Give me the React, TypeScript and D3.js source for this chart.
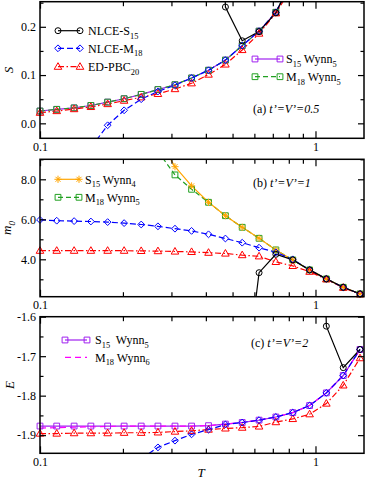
import React, { useRef, useEffect } from 'react';
import * as d3 from 'd3';

const n = null;

// temperatures of the markers (same grid in all three panels)
const T = [0.100, 0.115, 0.133, 0.153, 0.176, 0.202, 0.233, 0.268, 0.309, 0.355,
  0.409, 0.471, 0.542, 0.624, 0.718, 0.827, 0.952, 1.095, 1.261, 1.451];

// (a) entropy S, t'=V'=0.5
const S_NLCE_S15 = [n, n, n, n, n, n, n, n, n, n, 1.5, 0.241, 0.171, 0.190, 0.229, 0.300, n, n, n, n];
const S_NLCE_M18 = [n, n, n, -0.05, -0.004, 0.027, 0.050, 0.066, 0.079, 0.094, 0.110, 0.131, 0.161, 0.191, 0.230, 0.300, n, n, n, n];
const S_ED_PBC20 = [0.022, 0.0255, 0.0295, 0.034, 0.040, 0.047, 0.054, 0.061, 0.071, 0.083, 0.101, 0.122, 0.152, 0.186, 0.228, 0.285, n, n, n, n];
const S_S15_W5 = [0.0255, 0.029, 0.032, 0.037, 0.044, 0.051, 0.060, 0.070, 0.080, 0.094, 0.110, 0.131, 0.161, 0.191, 0.230, 0.300, n, n, n, n];
const S_M18_W5 = [0.0255, 0.029, 0.032, 0.037, 0.044, 0.051, 0.060, 0.070, 0.080, 0.094, 0.110, 0.131, 0.161, 0.191, 0.230, 0.300, n, n, n, n];

// (b) m_0, t'=V'=1
const M_NLCE_S15 = [n, n, n, n, n, n, n, n, n, n, n, n, -3.5, 3.33, 4.25, 3.97, 3.47, 3.02, 2.60, 2.27];
const M_NLCE_M18 = [5.97, 5.93, 5.91, 5.89, 5.86, 5.81, 5.74, 5.65, 5.53, 5.42, 5.25, 5.04, 4.83, 4.58, 4.35, 4.00, 3.47, 3.02, 2.60, 2.27];
const M_ED_PBC20 = [4.43, 4.43, 4.43, 4.43, 4.43, 4.43, 4.42, 4.41, 4.39, 4.37, 4.33, 4.29, 4.21, 4.15, 3.87, 3.67, 3.38, 3.00, 2.58, 2.25];
const M_S15_W4 = [n, n, n, n, n, n, n, 10.1, 8.63, 7.67, 6.85, 6.18, 5.60, 5.05, 4.47, 3.97, 3.47, 3.02, 2.60, 2.27];
const M_M18_W5 = [n, n, n, n, n, n, n, 9.4, 8.22, 7.50, 6.85, 6.18, 5.60, 5.05, 4.47, 3.97, 3.47, 3.02, 2.60, 2.27];

// (c) energy E, t'=V'=2
const E_NLCE_S15 = [n, n, n, n, n, n, n, n, n, n, n, n, n, n, n, n, 0.0, -1.624, -1.729, -1.683];
const E_NLCE_M18 = [n, n, n, n, n, n, -1.96, -1.931, -1.914, -1.898, -1.886, -1.873, -1.868, -1.862, -1.854, -1.843, -1.825, -1.793, -1.749, -1.683];
const E_ED_PBC20 = [-1.896, -1.896, -1.895, -1.895, -1.895, -1.894, -1.894, -1.893, -1.891, -1.889, -1.886, -1.883, -1.881, -1.878, -1.867, -1.859, -1.847, -1.820, -1.774, -1.705];
const E_S15_W5 = [-1.877, -1.877, -1.877, -1.877, -1.877, -1.877, -1.877, -1.877, -1.877, -1.877, -1.876, -1.872, -1.868, -1.862, -1.854, -1.843, -1.825, -1.793, -1.749, -1.683];
const E_M18_W6 = [-1.882, -1.881, -1.880, -1.879, -1.878, -1.877, -1.877, -1.877, -1.877, -1.877, -1.876, -1.872, -1.868, -1.862, -1.854, -1.843, -1.825, -1.793, -1.749, -1.683];

// ticks
const xMajor = [0.1, 1];
const xMinor = [0.2, 0.3, 0.4, 0.5, 0.6, 0.7, 0.8, 0.9];
const sMajor = [0, 0.1, 0.2];
const sMinor = [0.05, 0.15, 0.25];
const mMajor = [4, 6, 8];
const mMinor = [3, 5, 7, 9];
const eMajor = [-1.9, -1.8, -1.7, -1.6];
const eMinor = [-1.85, -1.75, -1.65];

const FONT = '"Liberation Serif", "Times New Roman", serif';
const BLUE = '#0000ff', RED = '#ff0000', PURPLE = '#a020f0', GREEN = '#22a022', ORANGE = '#ffa500', MAGENTA = '#ff00ff';

const marker = (kind) => {
  switch (kind) {
    case 'circle': return 'M3,0A3,3 0 1,1 -3,0A3,3 0 1,1 3,0Z';
    case 'diamond': return 'M0,-3.4L3.4,0L0,3.4L-3.4,0Z';
    case 'triangle': return 'M0,-4L3.8,2.6L-3.8,2.6Z';
    case 'square': return 'M-2.9,-2.9H2.9V2.9H-2.9Z';
    case 'star': return 'M0,-3.6V3.6M-3.6,0H3.6M-2.5,-2.5L2.5,2.5M-2.5,2.5L2.5,-2.5';
    default: return null;
  }
};

const S15 = { color: '#000', dash: null, mk: 'circle' };
const M18 = { color: BLUE, dash: '6,3', mk: 'diamond' };
const ED = { color: RED, dash: '6,2.5,1.5,2.5', mk: 'triangle' };

const App = () => {
  const svgRef = useRef(null);

  useEffect(() => {
    const svg = d3.select(svgRef.current);
    svg.selectAll('*').remove();

    const left = 40, right = 364;
    const x = d3.scaleLog().domain([0.1, 1.5]).range([left, right]);

    const panels = [
      {
        top: 1.7, bottom: 138.3, domain: [-0.031, 0.252], major: sMajor, minor: sMinor,
        title: [{ t: 'S' }], titleX: 13, titleY: 70,
        series: [
          { ...S15, values: S_NLCE_S15, order: 5 },
          { ...M18, values: S_NLCE_M18, order: 4 },
          { ...ED, values: S_ED_PBC20, order: 3 },
          { color: PURPLE, dash: null, mk: 'square', values: S_S15_W5, order: 1 },
          { color: GREEN, dash: '5,3', mk: 'square', values: S_M18_W5, order: 2 },
        ],
        legends: [
          { x1: 58, x2: 80, tx: 88, y: 30.7, s: 0, parts: [{ t: 'NLCE-S' }, { t: '15', sub: true }] },
          { x1: 58, x2: 80, tx: 88, y: 48.3, s: 1, parts: [{ t: 'NLCE-M' }, { t: '18', sub: true }] },
          { x1: 58, x2: 80, tx: 88, y: 66.7, s: 2, parts: [{ t: 'ED-PBC' }, { t: '20', sub: true }] },
          { x1: 255, x2: 280, tx: 286, y: 59, s: 3, parts: [{ t: 'S' }, { t: '15', sub: true }, { t: ' Wynn' }, { t: '5', sub: true }] },
          { x1: 255, x2: 280, tx: 286, y: 76.7, s: 4, parts: [{ t: 'M' }, { t: '18', sub: true }, { t: ' Wynn' }, { t: '5', sub: true }] },
        ],
        label: { x: 253, y: 113, parts: [{ t: '(a) ' }, { t: 't’=V’=0.5', it: true }] },
      },
      {
        top: 159.3, bottom: 296.7, domain: [2.13, 9.0], major: mMajor, minor: mMinor,
        title: [{ t: 'm' }, { t: '0', sub: true }], titleX: 11, titleY: 228,
        series: [
          { ...S15, values: M_NLCE_S15, order: 5 },
          { ...M18, values: M_NLCE_M18, order: 4 },
          { ...ED, values: M_ED_PBC20, order: 3 },
          { color: ORANGE, dash: null, mk: 'star', values: M_S15_W4, order: 2 },
          { color: GREEN, dash: '5,3', mk: 'square', values: M_M18_W5, order: 1 },
        ],
        legends: [
          { x1: 58, x2: 79, tx: 85, y: 179.3, s: 3, parts: [{ t: 'S' }, { t: '15', sub: true }, { t: ' Wynn' }, { t: '4', sub: true }] },
          { x1: 58, x2: 79, tx: 85, y: 197.3, s: 4, parts: [{ t: 'M' }, { t: '18', sub: true }, { t: ' Wynn' }, { t: '5', sub: true }] },
        ],
        label: { x: 253, y: 187, parts: [{ t: '(b) ' }, { t: 't’=V’=1', it: true }] },
      },
      {
        top: 316.7, bottom: 453.3, domain: [-1.946, -1.6], major: eMajor, minor: eMinor,
        title: [{ t: 'E' }], titleX: 14, titleY: 385,
        series: [
          { ...S15, values: E_NLCE_S15, order: 5 },
          { ...M18, values: E_NLCE_M18, order: 4 },
          { ...ED, values: E_ED_PBC20, order: 3 },
          { color: PURPLE, dash: null, mk: 'square', values: E_S15_W5, order: 1 },
          { color: MAGENTA, dash: '6,4', mk: null, values: E_M18_W6, order: 2 },
        ],
        legends: [
          { x1: 65, x2: 87, tx: 95, y: 340, s: 3, parts: [{ t: 'S' }, { t: '15', sub: true }, { t: '\u00a0 Wynn' }, { t: '5', sub: true }] },
          { x1: 65, x2: 87, tx: 95, y: 357.3, s: 4, parts: [{ t: 'M' }, { t: '18', sub: true }, { t: ' Wynn' }, { t: '6', sub: true }] },
        ],
        label: { x: 251, y: 347, parts: [{ t: '(c) ' }, { t: 't’=V’=2', it: true }] },
      },
    ];

    const addText = (g, tx, ty, parts, size = 12) => {
      const t = g.append('text').attr('x', tx).attr('y', ty)
        .attr('font-family', FONT).attr('font-size', size).attr('fill', '#000');
      let shift = 0;
      parts.forEach(p => {
        const target = p.sub ? size * 0.3 : 0;
        const ts = t.append('tspan').text(p.t).attr('dy', target - shift)
          .attr('font-size', p.sub ? size * 0.7 : size);
        if (p.it) ts.attr('font-style', 'italic');
        shift = target;
      });
      return t;
    };

    const drawSeries = (g, s, pts, y) => {
      const line = d3.line().defined(d => d.v != null).x(d => x(d.t)).y(d => y(d.v));
      g.append('path').datum(pts).attr('d', line)
        .attr('fill', 'none').attr('stroke', s.color).attr('stroke-width', 1.2)
        .attr('stroke-dasharray', s.dash);
    };

    panels.forEach((p, k) => {
      const y = d3.scaleLinear().domain(p.domain).range([p.bottom, p.top]);
      const g = svg.append('g');

      const clipId = `clip-${k}`;
      svg.append('clipPath').attr('id', clipId).append('rect')
        .attr('x', left).attr('y', p.top).attr('width', right - left).attr('height', p.bottom - p.top);

      const lines = g.append('g').attr('clip-path', `url(#${clipId})`);
      const marks = g.append('g');
      const sorted = [...p.series].sort((a, b) => a.order - b.order);
      sorted.forEach(s => {
        const pts = T.map((t, i) => ({ t, v: s.values[i] }));
        drawSeries(lines, s, pts, y);
        if (s.mk) {
          marks.selectAll(null)
            .data(pts.filter(d => d.v != null && d.v >= p.domain[0] && d.v <= p.domain[1]))
            .enter().append('path')
            .attr('transform', d => `translate(${x(d.t)},${y(d.v)})`)
            .attr('d', marker(s.mk))
            .attr('fill', 'none').attr('stroke', s.color).attr('stroke-width', 1);
        }
      });

      // axes: ticks pointing inward on all four sides
      const styleAxis = (a) => {
        a.select('.domain').remove();
        a.selectAll('line').attr('stroke', '#000').attr('stroke-width', 1.2);
        a.selectAll('text').attr('font-family', FONT).attr('font-size', 12).attr('fill', '#000');
      };
      const bottom = p.bottom, top = p.top;
      g.append('g').attr('transform', `translate(0,${bottom})`)
        .call(d3.axisBottom(x).tickValues(xMajor).tickSize(-7).tickPadding(4).tickFormat(d => d === 1 ? '1' : '0.1'))
        .call(styleAxis);
      g.append('g').attr('transform', `translate(0,${bottom})`)
        .call(d3.axisBottom(x).tickValues(xMinor).tickSize(-4.5).tickFormat(() => ''))
        .call(styleAxis);
      g.append('g').attr('transform', `translate(0,${top})`)
        .call(d3.axisTop(x).tickValues(xMajor).tickSize(-7).tickFormat(() => ''))
        .call(styleAxis);
      g.append('g').attr('transform', `translate(0,${top})`)
        .call(d3.axisTop(x).tickValues(xMinor).tickSize(-4.5).tickFormat(() => ''))
        .call(styleAxis);
      g.append('g').attr('transform', `translate(${left},0)`)
        .call(d3.axisLeft(y).tickValues(p.major).tickSize(-6).tickPadding(4).tickFormat(d => d.toFixed(1)))
        .call(styleAxis);
      g.append('g').attr('transform', `translate(${left},0)`)
        .call(d3.axisLeft(y).tickValues(p.minor).tickSize(-3.5).tickFormat(() => ''))
        .call(styleAxis);
      g.append('g').attr('transform', `translate(${right},0)`)
        .call(d3.axisRight(y).tickValues(p.major).tickSize(-6).tickFormat(() => ''))
        .call(styleAxis);
      g.append('g').attr('transform', `translate(${right},0)`)
        .call(d3.axisRight(y).tickValues(p.minor).tickSize(-3.5).tickFormat(() => ''))
        .call(styleAxis);

      g.append('rect').attr('x', left).attr('y', top).attr('width', right - left).attr('height', bottom - top)
        .attr('fill', 'none').attr('stroke', '#000').attr('stroke-width', 1.5);

      // y title (rotated)
      const tg = g.append('g').attr('transform', `translate(${p.titleX},${p.titleY}) rotate(-90)`);
      addText(tg, 0, 0, p.title.map(d => ({ ...d, it: true })), 13).attr('text-anchor', 'middle');

      // legends
      p.legends.forEach(l => {
        const s = p.series[l.s];
        g.append('line').attr('x1', l.x1).attr('x2', l.x2).attr('y1', l.y).attr('y2', l.y)
          .attr('stroke', s.color).attr('stroke-width', 1.2).attr('stroke-dasharray', s.dash);
        if (s.mk) {
          [l.x1, l.x2].forEach(mx => {
            g.append('path').attr('transform', `translate(${mx},${l.y})`).attr('d', marker(s.mk))
              .attr('fill', 'none').attr('stroke', s.color).attr('stroke-width', 1);
          });
        }
        addText(g, l.tx, l.y + 4.2, l.parts);
      });

      addText(g, p.label.x, p.label.y, p.label.parts);
    });

    // x title
    addText(svg, 201, 477, [{ t: 'T', it: true }], 13).attr('text-anchor', 'middle');
  }, []);

  return (
    <svg ref={svgRef} width={366} height={479}
      style={{ position: 'absolute', left: 0, top: 0, background: '#fff' }} />
  );
};

export default App;
